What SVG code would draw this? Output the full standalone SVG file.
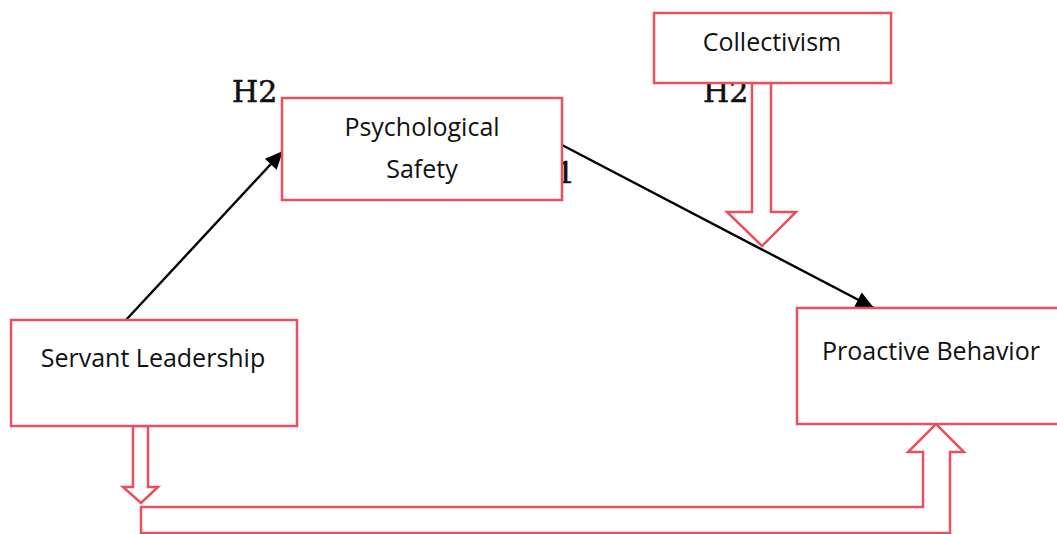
<svg xmlns="http://www.w3.org/2000/svg" width="1057" height="534" viewBox="0 0 1057 534">
<style>
.box{fill:#fff;stroke:#E8505F;stroke-width:2.5}
.blk{fill:#fff;stroke:#E8505F;stroke-width:2.5;stroke-linejoin:miter}
.lbl{font-family:"Open Sans","Noto Sans",sans-serif;font-size:25px;fill:#111;text-anchor:middle}
.h{font-family:"DejaVu Serif","Liberation Serif",serif;font-size:30px;fill:#111;stroke:#111;stroke-width:0.6}
.ln{stroke:#000;stroke-width:2.4;fill:none;marker-end:url(#ah)}
</style>
<defs>
<marker id="ah" viewBox="-20 -20 40 40" refX="0" refY="0" markerWidth="40" markerHeight="40" markerUnits="userSpaceOnUse" orient="auto" overflow="visible">
<path d="M0,0 L-18,-8 L-18,8 z" fill="#000"/>
</marker>
</defs>
<rect width="1057" height="534" fill="#fff"/>
<g id="labels">
<text class="h" x="232" y="102">H2</text>
<text class="h" x="703" y="102">H2</text>
<text class="h" x="556" y="183">1</text>
</g>
<g id="connectors">
<line class="ln" x1="126" y1="320" x2="283" y2="151"/>
<line class="ln" x1="562" y1="145" x2="874" y2="308"/>
<polygon class="blk" points="752,83 752,212 727,212 762,246 796,212 771,212 771,83"/>
<polygon class="blk" points="133,426 133,487 123,487 141,503 158,487 148,487 148,426"/>
<polygon class="blk" points="141,507 923,507 923,452 908,452 936,424 964,452 950,452 950,533 141,533"/>
</g>
<g id="psych">
<rect class="box" x="282" y="98" width="280" height="102"/>
<text class="lbl" x="422" y="136">Psychological</text>
<text class="lbl" x="422" y="178">Safety</text>
</g>
<g id="collectivism">
<rect class="box" x="654" y="13" width="237" height="70"/>
<text class="lbl" x="772" y="51">Collectivism</text>
</g>
<g id="servant">
<rect class="box" x="11" y="320" width="286" height="106"/>
<text class="lbl" x="153" y="367">Servant Leadership</text>
</g>
<g id="proactive">
<rect class="box" x="797" y="308" width="265" height="116"/>
<text class="lbl" x="931" y="360">Proactive Behavior</text>
</g>
</svg>
